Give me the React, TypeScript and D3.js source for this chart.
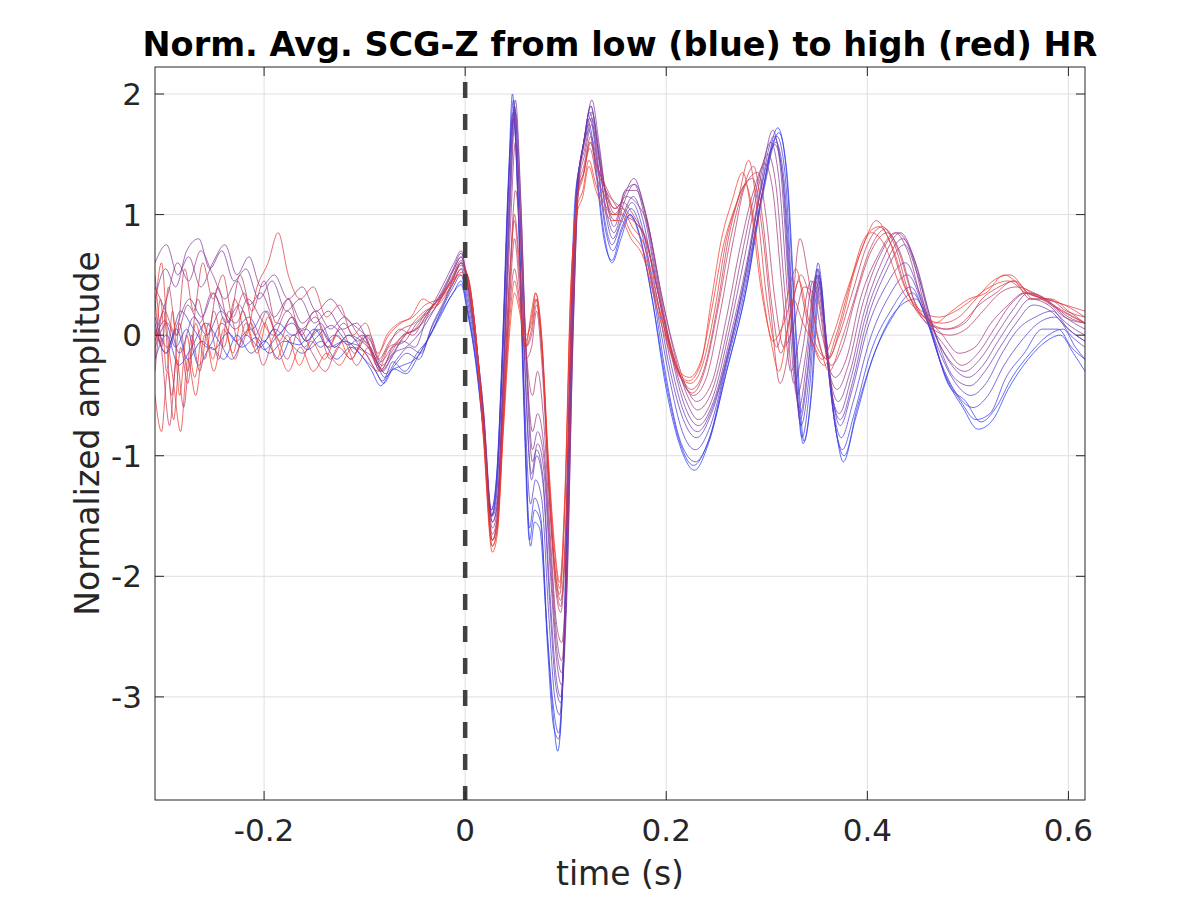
import * as d3 from 'd3';
import React from 'react';

type Pt = [number, number];

// averaged SCG-Z beats, ordered from lowest HR (blue) to highest HR (red)
const scgHr01: Pt[] = [
  [-0.3085, 0.1], [-0.298, -0.15], [-0.287, 0.05], [-0.276, -0.2], [-0.262, -0.05], [-0.25, -0.12], [-0.236, 0.02],
  [-0.222, -0.1], [-0.208, -0.02], [-0.195, -0.15], [-0.18, -0.05], [-0.165, -0.08], [-0.15, 0.05], [-0.136, -0.1],
  [-0.12, -0.05], [-0.105, -0.15], [-0.094, -0.28], [-0.084, -0.42], [-0.074, -0.3], [-0.062, -0.25], [-0.05, -0.2],
  [-0.038, -0.05], [-0.025, 0.15], [-0.012, 0.35], [-0.004, 0.42], [0.002, 0.2], [0.01, -0.2], [0.018, -0.8],
  [0.026, -1.5], [0.031, -1.25], [0.037, -0.2], [0.043, 1.2], [0.048, 1.95], [0.053, 1.1], [0.059, -0.7],
  [0.065, -1.75], [0.069, -1.55], [0.074, -1.6], [0.081, -2.4], [0.087, -3.1], [0.092, -3.45], [0.097, -2.9],
  [0.103, -0.6], [0.109, 1.1], [0.115, 1.45], [0.123, 1.75], [0.13, 1.4], [0.138, 0.85], [0.146, 0.6], [0.155, 0.8],
  [0.164, 1.0], [0.173, 0.85], [0.185, 0.35], [0.2, -0.45], [0.215, -0.95], [0.228, -1.12], [0.242, -0.9],
  [0.26, -0.3], [0.28, 0.4], [0.297, 1.25], [0.311, 1.72], [0.319, 1.4], [0.328, 0.1], [0.336, -0.9], [0.344, -0.5],
  [0.352, 0.5], [0.36, -0.2], [0.369, -0.8], [0.376, -1.05], [0.388, -0.7], [0.405, -0.2], [0.425, 0.15],
  [0.445, 0.35], [0.46, 0.1], [0.478, -0.35], [0.495, -0.6], [0.51, -0.78], [0.525, -0.7], [0.54, -0.45],
  [0.56, -0.2], [0.578, -0.05], [0.592, 0.0], [0.605, -0.15], [0.6165, -0.3],
];

const scgHr02: Pt[] = [
  [-0.3085, -0.05], [-0.299, 0.12], [-0.288, -0.1], [-0.277, 0.05], [-0.265, -0.25], [-0.253, -0.1], [-0.24, -0.2],
  [-0.227, 0.0], [-0.213, -0.15], [-0.199, -0.05], [-0.185, -0.2], [-0.171, 0.0], [-0.157, -0.12], [-0.143, -0.05],
  [-0.128, -0.2], [-0.114, -0.1], [-0.1, -0.2], [-0.089, -0.3], [-0.081, -0.4], [-0.071, -0.28], [-0.059, -0.32],
  [-0.047, -0.18], [-0.035, 0.0], [-0.023, 0.2], [-0.012, 0.35], [-0.004, 0.45], [0.002, 0.22], [0.01, -0.18],
  [0.018, -0.78], [0.026, -1.45], [0.031, -1.2], [0.037, -0.15], [0.043, 1.25], [0.047, 2.0], [0.052, 1.2],
  [0.058, -0.5], [0.064, -1.7], [0.069, -1.45], [0.075, -1.55], [0.082, -2.6], [0.088, -3.25], [0.093, -3.35],
  [0.098, -2.7], [0.104, -0.5], [0.11, 1.1], [0.116, 1.5], [0.123, 1.7], [0.13, 1.35], [0.138, 0.8], [0.146, 0.62],
  [0.155, 0.85], [0.164, 1.0], [0.174, 0.8], [0.186, 0.3], [0.2, -0.4], [0.214, -0.9], [0.227, -1.08],
  [0.242, -0.88], [0.26, -0.3], [0.279, 0.35], [0.297, 1.2], [0.312, 1.68], [0.32, 1.35], [0.329, 0.05],
  [0.337, -0.88], [0.345, -0.45], [0.353, 0.45], [0.361, -0.25], [0.37, -0.85], [0.377, -1.0], [0.39, -0.6],
  [0.407, -0.15], [0.428, 0.2], [0.448, 0.3], [0.463, 0.05], [0.48, -0.4], [0.498, -0.55], [0.513, -0.72],
  [0.528, -0.6], [0.544, -0.35], [0.562, -0.15], [0.58, 0.0], [0.595, 0.05], [0.607, -0.1], [0.6165, -0.2],
];

const scgHr03: Pt[] = [
  [-0.3085, -0.2], [-0.297, 0.0], [-0.285, -0.25], [-0.272, -0.1], [-0.258, 0.1], [-0.245, -0.05], [-0.232, -0.2],
  [-0.218, 0.0], [-0.204, -0.1], [-0.19, 0.05], [-0.176, -0.05], [-0.162, -0.15], [-0.148, -0.02], [-0.133, 0.08],
  [-0.118, -0.05], [-0.104, -0.1], [-0.092, -0.25], [-0.082, -0.38], [-0.072, -0.22], [-0.06, -0.3], [-0.048, -0.15],
  [-0.036, -0.02], [-0.024, 0.2], [-0.012, 0.4], [-0.004, 0.5], [0.002, 0.25], [0.01, -0.15], [0.018, -0.75],
  [0.026, -1.45], [0.031, -1.2], [0.037, -0.1], [0.043, 1.3], [0.048, 1.85], [0.053, 1.0], [0.059, -0.6],
  [0.064, -1.6], [0.069, -1.35], [0.075, -1.5], [0.082, -2.5], [0.088, -3.1], [0.093, -3.3], [0.098, -2.6],
  [0.104, -0.4], [0.11, 1.15], [0.116, 1.5], [0.124, 1.8], [0.131, 1.45], [0.139, 0.9], [0.147, 0.7], [0.156, 0.9],
  [0.165, 1.05], [0.174, 0.9], [0.187, 0.35], [0.2, -0.35], [0.215, -0.9], [0.229, -1.05], [0.243, -0.85],
  [0.26, -0.25], [0.28, 0.45], [0.296, 1.2], [0.31, 1.65], [0.318, 1.35], [0.327, 0.0], [0.335, -0.85],
  [0.343, -0.4], [0.351, 0.55], [0.359, -0.1], [0.368, -0.75], [0.375, -0.95], [0.387, -0.65], [0.403, -0.15],
  [0.423, 0.2], [0.443, 0.4], [0.458, 0.15], [0.476, -0.3], [0.493, -0.55], [0.508, -0.7], [0.522, -0.65],
  [0.538, -0.35], [0.556, -0.15], [0.574, 0.05], [0.59, 0.05], [0.603, -0.1], [0.6165, -0.2],
];

const scgHr04: Pt[] = [
  [-0.3085, 0.15], [-0.296, -0.1], [-0.283, 0.2], [-0.27, 0.05], [-0.256, -0.1], [-0.242, 0.1], [-0.228, -0.05],
  [-0.214, 0.05], [-0.2, -0.12], [-0.186, 0.0], [-0.172, 0.1], [-0.158, -0.05], [-0.144, 0.05], [-0.13, -0.1],
  [-0.116, 0.0], [-0.102, -0.12], [-0.09, -0.2], [-0.08, -0.35], [-0.07, -0.25], [-0.058, -0.15], [-0.046, -0.2],
  [-0.034, 0.05], [-0.022, 0.25], [-0.011, 0.45], [-0.004, 0.55], [0.002, 0.3], [0.01, -0.1], [0.018, -0.7],
  [0.026, -1.5], [0.031, -1.3], [0.037, -0.2], [0.043, 1.2], [0.048, 1.8], [0.053, 1.05], [0.059, -0.5],
  [0.065, -1.4], [0.07, -1.2], [0.076, -1.35], [0.083, -2.3], [0.089, -3.0], [0.094, -3.15], [0.099, -2.4],
  [0.105, -0.3], [0.111, 1.2], [0.117, 1.55], [0.124, 1.85], [0.131, 1.5], [0.139, 0.95], [0.146, 0.75],
  [0.156, 0.95], [0.166, 1.1], [0.176, 0.9], [0.189, 0.3], [0.203, -0.35], [0.216, -0.8], [0.229, -0.95],
  [0.244, -0.75], [0.262, -0.15], [0.28, 0.5], [0.295, 1.15], [0.309, 1.6], [0.317, 1.3], [0.326, 0.1],
  [0.334, -0.75], [0.342, -0.35], [0.351, 0.6], [0.359, 0.0], [0.367, -0.65], [0.374, -0.85], [0.386, -0.55],
  [0.402, -0.05], [0.42, 0.3], [0.44, 0.5], [0.455, 0.25], [0.472, -0.2], [0.49, -0.5], [0.505, -0.6],
  [0.52, -0.5], [0.536, -0.25], [0.553, -0.05], [0.57, 0.1], [0.587, 0.15], [0.602, 0.0], [0.6165, -0.1],
];

const scgHr05: Pt[] = [
  [-0.3085, -0.1], [-0.296, 0.1], [-0.284, -0.15], [-0.27, 0.15], [-0.257, 0.0], [-0.243, 0.2], [-0.229, 0.05],
  [-0.215, 0.15], [-0.2, -0.05], [-0.186, 0.1], [-0.172, 0.0], [-0.158, 0.05], [-0.144, -0.1], [-0.13, 0.0],
  [-0.116, -0.08], [-0.102, 0.0], [-0.09, -0.18], [-0.079, -0.32], [-0.068, -0.2], [-0.056, -0.1], [-0.044, -0.15],
  [-0.032, 0.1], [-0.02, 0.3], [-0.01, 0.5], [-0.004, 0.6], [0.002, 0.35], [0.01, -0.05], [0.018, -0.65],
  [0.026, -1.5], [0.031, -1.35], [0.037, -0.3], [0.044, 1.2], [0.049, 1.9], [0.054, 1.1], [0.06, -0.4],
  [0.066, -1.2], [0.071, -1.0], [0.077, -1.2], [0.084, -2.2], [0.09, -2.9], [0.095, -3.05], [0.1, -2.3],
  [0.106, -0.2], [0.112, 1.25], [0.118, 1.6], [0.125, 1.9], [0.132, 1.55], [0.14, 1.0], [0.147, 0.8],
  [0.157, 1.0], [0.167, 1.15], [0.177, 0.95], [0.19, 0.35], [0.204, -0.3], [0.217, -0.7], [0.23, -0.85],
  [0.245, -0.65], [0.263, -0.1], [0.28, 0.55], [0.294, 1.2], [0.308, 1.58], [0.316, 1.3], [0.325, 0.15],
  [0.333, -0.7], [0.341, -0.3], [0.35, 0.55], [0.358, 0.05], [0.366, -0.55], [0.373, -0.75], [0.385, -0.45],
  [0.4, 0.05], [0.418, 0.4], [0.438, 0.6], [0.452, 0.35], [0.47, -0.1], [0.488, -0.4], [0.503, -0.5],
  [0.518, -0.4], [0.534, -0.15], [0.55, 0.05], [0.567, 0.15], [0.584, 0.2], [0.6, 0.05], [0.6165, -0.05],
];

const scgHr06: Pt[] = [
  [-0.3085, 0.05], [-0.297, -0.15], [-0.286, 0.1], [-0.274, 0.3], [-0.262, 0.15], [-0.25, 0.35], [-0.238, 0.1],
  [-0.225, 0.25], [-0.212, 0.05], [-0.199, 0.2], [-0.186, 0.0], [-0.172, 0.15], [-0.158, -0.05], [-0.144, 0.1],
  [-0.13, -0.1], [-0.116, 0.0], [-0.103, -0.05], [-0.092, -0.15], [-0.082, -0.3], [-0.071, -0.15], [-0.059, -0.1],
  [-0.047, 0.0], [-0.035, 0.15], [-0.022, 0.35], [-0.011, 0.55], [-0.004, 0.65], [0.002, 0.4], [0.01, -0.05],
  [0.018, -0.65], [0.027, -1.55], [0.032, -1.4], [0.038, -0.35], [0.044, 1.1], [0.049, 1.9], [0.054, 1.15],
  [0.06, -0.35], [0.066, -1.15], [0.071, -0.95], [0.077, -1.15], [0.084, -2.1], [0.09, -2.8], [0.095, -3.0],
  [0.1, -2.25], [0.106, -0.15], [0.112, 1.25], [0.118, 1.6], [0.125, 1.9], [0.132, 1.55], [0.14, 1.05],
  [0.148, 0.85], [0.158, 1.1], [0.168, 1.25], [0.178, 1.0], [0.191, 0.4], [0.205, -0.25], [0.218, -0.65],
  [0.231, -0.8], [0.246, -0.6], [0.264, -0.05], [0.28, 0.55], [0.294, 1.2], [0.307, 1.65], [0.315, 1.35],
  [0.324, 0.2], [0.333, -0.65], [0.341, -0.25], [0.35, 0.5], [0.358, 0.05], [0.366, -0.55], [0.373, -0.7],
  [0.385, -0.4], [0.399, 0.1], [0.417, 0.5], [0.437, 0.75], [0.45, 0.5], [0.468, 0.0], [0.486, -0.35],
  [0.502, -0.42], [0.517, -0.3], [0.532, -0.1], [0.548, 0.1], [0.565, 0.25], [0.582, 0.2], [0.6, 0.05], [0.6165, -0.05],
];

const scgHr07: Pt[] = [
  [-0.3085, 0.3], [-0.298, 0.55], [-0.288, 0.4], [-0.277, 0.7], [-0.265, 0.8], [-0.254, 0.55], [-0.242, 0.7],
  [-0.23, 0.45], [-0.218, 0.55], [-0.205, 0.3], [-0.192, 0.45], [-0.178, 0.2], [-0.164, 0.3], [-0.15, 0.1],
  [-0.136, 0.2], [-0.122, 0.05], [-0.108, 0.1], [-0.095, -0.1], [-0.084, -0.3], [-0.074, -0.2], [-0.062, -0.05],
  [-0.05, -0.1], [-0.038, 0.15], [-0.024, 0.35], [-0.012, 0.55], [-0.004, 0.68], [0.002, 0.45], [0.01, 0.0],
  [0.018, -0.6], [0.027, -1.5], [0.032, -1.35], [0.038, -0.3], [0.045, 1.2], [0.05, 1.95], [0.055, 1.2],
  [0.061, -0.3], [0.067, -1.05], [0.072, -0.9], [0.078, -1.1], [0.085, -2.0], [0.091, -2.7], [0.096, -2.9],
  [0.101, -2.2], [0.107, -0.1], [0.113, 1.3], [0.119, 1.65], [0.126, 1.95], [0.133, 1.6], [0.141, 1.1],
  [0.148, 0.9], [0.158, 1.15], [0.168, 1.3], [0.178, 1.05], [0.192, 0.4], [0.206, -0.2], [0.219, -0.6],
  [0.232, -0.75], [0.247, -0.55], [0.264, 0.0], [0.28, 0.6], [0.293, 1.2], [0.306, 1.7], [0.314, 1.35],
  [0.323, 0.25], [0.332, -0.6], [0.34, -0.2], [0.349, 0.5], [0.357, 0.1], [0.365, -0.5], [0.372, -0.65],
  [0.384, -0.35], [0.398, 0.15], [0.416, 0.55], [0.435, 0.8], [0.448, 0.6], [0.466, 0.05], [0.484, -0.25],
  [0.5, -0.35], [0.515, -0.25], [0.53, -0.05], [0.546, 0.15], [0.562, 0.3], [0.58, 0.25], [0.598, 0.1], [0.6165, 0.0],
];

const scgHr08: Pt[] = [
  [-0.3085, 0.6], [-0.297, 0.75], [-0.286, 0.5], [-0.275, 0.65], [-0.263, 0.4], [-0.251, 0.6], [-0.239, 0.75],
  [-0.227, 0.5], [-0.215, 0.65], [-0.203, 0.4], [-0.19, 0.5], [-0.176, 0.3], [-0.162, 0.4], [-0.148, 0.2],
  [-0.134, 0.3], [-0.12, 0.15], [-0.106, 0.05], [-0.094, -0.05], [-0.083, -0.25], [-0.072, -0.15], [-0.06, 0.0],
  [-0.048, 0.05], [-0.036, 0.2], [-0.023, 0.4], [-0.011, 0.6], [-0.004, 0.7], [0.002, 0.45], [0.01, 0.0],
  [0.018, -0.6], [0.027, -1.55], [0.032, -1.4], [0.038, -0.35], [0.045, 1.1], [0.05, 1.85], [0.055, 1.15],
  [0.061, -0.2], [0.067, -0.95], [0.072, -0.8], [0.078, -1.0], [0.085, -1.9], [0.091, -2.6], [0.096, -2.8],
  [0.101, -2.1], [0.107, -0.1], [0.113, 1.3], [0.119, 1.6], [0.126, 1.85], [0.133, 1.55], [0.141, 1.1],
  [0.149, 0.95], [0.159, 1.2], [0.169, 1.25], [0.18, 1.0], [0.194, 0.35], [0.207, -0.2], [0.22, -0.55],
  [0.232, -0.7], [0.247, -0.5], [0.263, 0.05], [0.278, 0.65], [0.291, 1.2], [0.304, 1.6], [0.312, 1.3],
  [0.321, 0.3], [0.33, -0.5], [0.339, -0.15], [0.348, 0.45], [0.356, 0.15], [0.364, -0.4], [0.371, -0.55],
  [0.383, -0.3], [0.397, 0.2], [0.414, 0.6], [0.433, 0.85], [0.446, 0.65], [0.463, 0.1], [0.481, -0.2],
  [0.497, -0.3], [0.512, -0.2], [0.528, 0.0], [0.544, 0.2], [0.56, 0.35], [0.578, 0.3], [0.597, 0.15], [0.6165, 0.05],
];

const scgHr09: Pt[] = [
  [-0.3085, 0.0], [-0.297, 0.3], [-0.286, 0.6], [-0.275, 0.45], [-0.263, 0.7], [-0.251, 0.5], [-0.239, 0.3],
  [-0.227, 0.45], [-0.215, 0.25], [-0.203, 0.35], [-0.19, 0.15], [-0.176, 0.3], [-0.162, 0.1], [-0.148, 0.2],
  [-0.134, 0.05], [-0.12, 0.15], [-0.106, 0.0], [-0.094, -0.1], [-0.083, -0.28], [-0.072, -0.1], [-0.06, -0.05],
  [-0.048, 0.1], [-0.036, 0.2], [-0.023, 0.35], [-0.011, 0.55], [-0.004, 0.65], [0.002, 0.45], [0.01, 0.0],
  [0.018, -0.65], [0.027, -1.6], [0.032, -1.45], [0.038, -0.4], [0.045, 0.9], [0.05, 1.6], [0.055, 1.0],
  [0.061, -0.2], [0.067, -0.8], [0.072, -0.65], [0.078, -0.9], [0.085, -1.8], [0.091, -2.5], [0.096, -2.7],
  [0.101, -2.0], [0.107, 0.0], [0.113, 1.3], [0.119, 1.55], [0.126, 1.8], [0.133, 1.5], [0.141, 1.15],
  [0.15, 1.0], [0.16, 1.2], [0.17, 1.2], [0.181, 0.95], [0.195, 0.35], [0.208, -0.15], [0.221, -0.5],
  [0.231, -0.62], [0.246, -0.45], [0.262, 0.1], [0.276, 0.7], [0.289, 1.2], [0.301, 1.5], [0.309, 1.25],
  [0.318, 0.35], [0.327, -0.4], [0.336, -0.1], [0.346, 0.45], [0.354, 0.2], [0.362, -0.3], [0.37, -0.45],
  [0.381, -0.25], [0.395, 0.25], [0.412, 0.65], [0.43, 0.85], [0.443, 0.7], [0.46, 0.15], [0.478, -0.1],
  [0.494, -0.25], [0.51, -0.15], [0.526, 0.05], [0.542, 0.25], [0.558, 0.35], [0.576, 0.3], [0.596, 0.15], [0.6165, 0.1],
];

const scgHr10: Pt[] = [
  [-0.3085, 0.4], [-0.298, 0.2], [-0.287, 0.0], [-0.276, 0.25], [-0.264, 0.1], [-0.252, 0.35], [-0.24, 0.2],
  [-0.228, 0.1], [-0.216, 0.3], [-0.204, 0.15], [-0.191, 0.0], [-0.177, 0.2], [-0.163, 0.05], [-0.149, 0.15],
  [-0.135, -0.05], [-0.121, 0.1], [-0.107, -0.05], [-0.095, 0.0], [-0.084, -0.22], [-0.073, -0.1], [-0.061, 0.0],
  [-0.049, 0.05], [-0.037, 0.15], [-0.024, 0.3], [-0.012, 0.5], [-0.004, 0.62], [0.002, 0.45], [0.01, 0.0],
  [0.018, -0.7], [0.027, -1.65], [0.032, -1.5], [0.038, -0.5], [0.045, 0.6], [0.05, 1.2], [0.055, 0.8],
  [0.061, -0.15], [0.067, -0.5], [0.072, -0.3], [0.078, -0.7], [0.085, -1.7], [0.091, -2.4], [0.096, -2.55],
  [0.101, -1.9], [0.107, 0.1], [0.113, 1.25], [0.119, 1.5], [0.126, 1.75], [0.133, 1.45], [0.141, 1.15],
  [0.15, 1.05], [0.16, 1.15], [0.17, 1.1], [0.182, 0.9], [0.196, 0.3], [0.209, -0.15], [0.221, -0.45],
  [0.23, -0.55], [0.245, -0.4], [0.26, 0.15], [0.274, 0.75], [0.287, 1.2], [0.298, 1.42], [0.306, 1.2],
  [0.315, 0.4], [0.324, -0.3], [0.333, 0.0], [0.344, 0.45], [0.352, 0.25], [0.36, -0.2], [0.368, -0.35],
  [0.379, -0.2], [0.393, 0.3], [0.41, 0.65], [0.428, 0.85], [0.44, 0.7], [0.457, 0.2], [0.475, 0.0],
  [0.491, -0.15], [0.507, -0.1], [0.523, 0.1], [0.54, 0.25], [0.556, 0.35], [0.574, 0.3], [0.595, 0.2], [0.6165, 0.1],
];

const scgHr11: Pt[] = [
  [-0.3085, -0.3], [-0.3, 0.2], [-0.292, -0.5], [-0.284, 0.1], [-0.276, -0.3], [-0.266, 0.3], [-0.256, 0.0],
  [-0.246, 0.4], [-0.235, 0.1], [-0.224, 0.5], [-0.212, 0.2], [-0.2, 0.45], [-0.188, 0.1], [-0.176, 0.3],
  [-0.163, 0.0], [-0.15, 0.2], [-0.137, -0.1], [-0.124, 0.05], [-0.11, -0.15], [-0.097, 0.0], [-0.086, -0.2],
  [-0.075, -0.05], [-0.063, 0.05], [-0.05, 0.1], [-0.038, 0.2], [-0.025, 0.3], [-0.013, 0.45], [-0.004, 0.6],
  [0.002, 0.5], [0.01, 0.05], [0.018, -0.7], [0.027, -1.7], [0.032, -1.5], [0.038, -0.6], [0.045, 0.4],
  [0.049, 0.8], [0.054, 0.4], [0.06, -0.2], [0.066, -0.1], [0.071, 0.2], [0.076, -0.2], [0.084, -1.4],
  [0.09, -2.1], [0.095, -2.3], [0.1, -1.7], [0.106, 0.2], [0.112, 1.2], [0.118, 1.4], [0.125, 1.65],
  [0.132, 1.4], [0.14, 1.2], [0.149, 1.1], [0.158, 1.05], [0.168, 0.95], [0.18, 0.8], [0.193, 0.3],
  [0.206, -0.15], [0.217, -0.4], [0.227, -0.5], [0.24, -0.35], [0.254, 0.2], [0.267, 0.8], [0.279, 1.25],
  [0.291, 1.35], [0.299, 1.0], [0.308, 0.3], [0.317, -0.1], [0.327, 0.1], [0.337, 0.4], [0.346, 0.35],
  [0.355, 0.0], [0.364, -0.25], [0.375, -0.1], [0.388, 0.3], [0.404, 0.7], [0.42, 0.85], [0.432, 0.7],
  [0.448, 0.25], [0.465, 0.05], [0.482, 0.0], [0.498, 0.05], [0.515, 0.2], [0.532, 0.35], [0.548, 0.4],
  [0.566, 0.35], [0.585, 0.25], [0.6, 0.15], [0.6165, 0.1],
];

const scgHr12: Pt[] = [
  [-0.3085, 0.5], [-0.301, -0.2], [-0.294, -0.75], [-0.287, -0.2], [-0.28, -0.6], [-0.272, 0.0], [-0.264, -0.3],
  [-0.255, 0.1], [-0.245, -0.2], [-0.235, 0.2], [-0.224, -0.1], [-0.213, 0.1], [-0.201, -0.25], [-0.189, 0.0],
  [-0.177, -0.2], [-0.165, 0.05], [-0.152, -0.15], [-0.139, -0.3], [-0.126, -0.1], [-0.113, -0.2], [-0.1, 0.0],
  [-0.088, -0.25], [-0.077, -0.1], [-0.065, 0.05], [-0.052, 0.0], [-0.04, 0.15], [-0.027, 0.3], [-0.014, 0.45],
  [-0.004, 0.58], [0.002, 0.5], [0.01, 0.05], [0.018, -0.75], [0.027, -1.7], [0.032, -1.55], [0.038, -0.7],
  [0.045, 0.3], [0.049, 0.55], [0.054, 0.3], [0.06, -0.1], [0.066, 0.05], [0.071, 0.3], [0.076, -0.1],
  [0.084, -1.3], [0.09, -2.0], [0.095, -2.2], [0.1, -1.6], [0.106, 0.3], [0.112, 1.2], [0.118, 1.35],
  [0.124, 1.6], [0.131, 1.4], [0.139, 1.25], [0.148, 1.1], [0.157, 1.0], [0.167, 0.95], [0.179, 0.8],
  [0.192, 0.35], [0.204, -0.1], [0.215, -0.35], [0.225, -0.45], [0.237, -0.3], [0.25, 0.2], [0.263, 0.85],
  [0.275, 1.2], [0.286, 1.3], [0.295, 0.9], [0.304, 0.2], [0.313, -0.4], [0.322, -0.1], [0.333, 0.8],
  [0.341, 0.5], [0.35, 0.0], [0.36, -0.2], [0.372, 0.0], [0.385, 0.35], [0.4, 0.75], [0.415, 0.9],
  [0.427, 0.75], [0.443, 0.3], [0.46, 0.1], [0.477, 0.05], [0.494, 0.1], [0.511, 0.25], [0.528, 0.35],
  [0.545, 0.45], [0.562, 0.3], [0.58, 0.3], [0.598, 0.2], [0.6165, 0.15],
];

const scgHr13: Pt[] = [
  [-0.3085, 0.3], [-0.302, -0.1], [-0.295, 0.4], [-0.287, 0.0], [-0.279, 0.55], [-0.27, 0.2], [-0.261, 0.6],
  [-0.251, 0.3], [-0.241, 0.5], [-0.231, 0.15], [-0.22, 0.35], [-0.209, 0.0], [-0.197, 0.2], [-0.185, -0.05],
  [-0.173, 0.15], [-0.16, -0.1], [-0.147, 0.05], [-0.134, -0.2], [-0.121, -0.05], [-0.108, -0.25], [-0.096, -0.1],
  [-0.085, -0.3], [-0.074, -0.15], [-0.062, 0.0], [-0.05, 0.05], [-0.038, 0.2], [-0.026, 0.3], [-0.014, 0.45],
  [-0.004, 0.6], [0.002, 0.5], [0.01, 0.05], [0.018, -0.75], [0.027, -1.7], [0.032, -1.55], [0.038, -0.55],
  [0.045, 0.6], [0.049, 0.95], [0.054, 0.5], [0.06, -0.1], [0.066, 0.0], [0.071, 0.25], [0.077, -0.2],
  [0.084, -1.35], [0.09, -2.05], [0.095, -2.25], [0.1, -1.6], [0.106, 0.25], [0.112, 1.15], [0.118, 1.35],
  [0.125, 1.6], [0.132, 1.35], [0.14, 1.2], [0.148, 1.05], [0.157, 1.1], [0.167, 1.0], [0.179, 0.8],
  [0.192, 0.35], [0.205, -0.1], [0.216, -0.38], [0.226, -0.48], [0.238, -0.3], [0.251, 0.2], [0.264, 0.8],
  [0.276, 1.2], [0.287, 1.4], [0.296, 0.95], [0.305, 0.25], [0.314, -0.15], [0.324, 0.2], [0.334, 0.5],
  [0.343, 0.3], [0.352, -0.05], [0.362, -0.3], [0.374, -0.05], [0.387, 0.3], [0.402, 0.7], [0.418, 0.88],
  [0.43, 0.72], [0.446, 0.3], [0.463, 0.1], [0.48, 0.05], [0.497, 0.1], [0.514, 0.3], [0.531, 0.4],
  [0.547, 0.45], [0.565, 0.3], [0.583, 0.3], [0.6, 0.2], [0.6165, 0.1],
];

const scgHr14: Pt[] = [
  [-0.3085, -0.5], [-0.302, -0.8], [-0.296, -0.3], [-0.29, -0.7], [-0.283, -0.1], [-0.276, -0.4], [-0.268, 0.1],
  [-0.259, -0.2], [-0.25, 0.2], [-0.24, -0.1], [-0.229, 0.3], [-0.218, 0.0], [-0.207, 0.4], [-0.196, 0.6],
  [-0.186, 0.85], [-0.176, 0.5], [-0.164, 0.3], [-0.151, 0.4], [-0.138, 0.15], [-0.125, 0.25], [-0.112, 0.0],
  [-0.099, 0.1], [-0.087, -0.15], [-0.076, 0.0], [-0.064, 0.1], [-0.052, 0.15], [-0.04, 0.25], [-0.027, 0.3],
  [-0.014, 0.4], [-0.004, 0.55], [0.002, 0.5], [0.01, 0.05], [0.018, -0.8], [0.027, -1.75], [0.032, -1.6],
  [0.038, -0.7], [0.045, 0.5], [0.049, 1.0], [0.054, 0.6], [0.06, 0.0], [0.066, 0.1], [0.07, 0.35],
  [0.076, 0.0], [0.083, -1.2], [0.089, -1.9], [0.094, -2.15], [0.099, -1.5], [0.105, 0.3], [0.111, 1.1],
  [0.117, 1.3], [0.124, 1.55], [0.131, 1.3], [0.139, 1.15], [0.147, 1.0], [0.156, 1.05], [0.166, 0.9],
  [0.178, 0.75], [0.191, 0.3], [0.203, -0.1], [0.214, -0.35], [0.224, -0.4], [0.236, -0.25], [0.248, 0.2],
  [0.26, 0.8], [0.272, 1.15], [0.282, 1.45], [0.291, 1.0], [0.3, 0.3], [0.31, -0.1], [0.32, 0.3],
  [0.329, 0.55], [0.338, 0.2], [0.347, -0.1], [0.357, -0.25], [0.369, 0.0], [0.382, 0.4], [0.397, 0.8],
  [0.412, 0.9], [0.424, 0.75], [0.44, 0.35], [0.457, 0.15], [0.474, 0.1], [0.491, 0.15], [0.508, 0.3],
  [0.525, 0.45], [0.542, 0.5], [0.56, 0.35], [0.578, 0.3], [0.597, 0.25], [0.6165, 0.2],
];

const scgHr15: Pt[] = [
  [-0.3085, 0.2], [-0.302, 0.6], [-0.296, 0.0], [-0.29, -0.4], [-0.283, -0.8], [-0.276, -0.2], [-0.268, -0.5],
  [-0.259, 0.0], [-0.25, -0.3], [-0.24, 0.05], [-0.229, -0.2], [-0.218, 0.1], [-0.207, -0.15], [-0.196, 0.15],
  [-0.186, -0.1], [-0.176, -0.3], [-0.164, -0.1], [-0.151, -0.3], [-0.138, -0.15], [-0.125, -0.25], [-0.112, -0.1],
  [-0.099, -0.15], [-0.087, -0.3], [-0.076, -0.1], [-0.064, -0.05], [-0.052, 0.1], [-0.04, 0.2], [-0.027, 0.25],
  [-0.014, 0.4], [-0.004, 0.52], [0.002, 0.5], [0.01, 0.05], [0.018, -0.8], [0.027, -1.75], [0.032, -1.6],
  [0.038, -0.75], [0.045, 0.2], [0.049, 0.45], [0.054, 0.25], [0.06, -0.05], [0.066, 0.15], [0.07, 0.3],
  [0.076, -0.05], [0.083, -1.1], [0.089, -1.8], [0.094, -2.1], [0.099, -1.4], [0.105, 0.35], [0.111, 1.05],
  [0.117, 1.2], [0.123, 1.45], [0.13, 1.25], [0.138, 1.1], [0.146, 1.0], [0.155, 1.0], [0.165, 0.85],
  [0.177, 0.7], [0.19, 0.3], [0.202, -0.05], [0.213, -0.3], [0.223, -0.35], [0.235, -0.2], [0.246, 0.25],
  [0.257, 0.75], [0.268, 1.05], [0.279, 1.25], [0.288, 0.9], [0.297, 0.3], [0.306, -0.05], [0.317, 0.1],
  [0.326, 0.3], [0.336, 0.1], [0.345, -0.05], [0.355, -0.2], [0.366, 0.0], [0.379, 0.35], [0.394, 0.7],
  [0.409, 0.95], [0.421, 0.8], [0.437, 0.4], [0.454, 0.2], [0.471, 0.15], [0.488, 0.2], [0.505, 0.3],
  [0.522, 0.4], [0.54, 0.45], [0.558, 0.35], [0.577, 0.3], [0.596, 0.25], [0.6165, 0.15],
];

const scgHr16: Pt[] = [
  [-0.3085, -0.2], [-0.303, 0.3], [-0.297, -0.3], [-0.291, 0.2], [-0.284, -0.5], [-0.277, 0.0], [-0.269, -0.35],
  [-0.26, 0.1], [-0.251, -0.2], [-0.241, 0.15], [-0.231, -0.15], [-0.221, 0.2], [-0.21, -0.1], [-0.199, 0.1],
  [-0.188, -0.2], [-0.177, 0.0], [-0.165, -0.25], [-0.153, -0.05], [-0.14, -0.2], [-0.127, 0.0], [-0.114, -0.2],
  [-0.101, -0.05], [-0.089, -0.2], [-0.078, 0.0], [-0.066, 0.1], [-0.054, 0.15], [-0.042, 0.3], [-0.03, 0.25],
  [-0.017, 0.4], [-0.006, 0.5], [0.002, 0.45], [0.01, 0.0], [0.018, -0.85], [0.027, -1.8], [0.032, -1.65],
  [0.038, -0.8], [0.045, 0.1], [0.049, 0.35], [0.054, 0.2], [0.06, -0.1], [0.066, 0.2], [0.07, 0.35],
  [0.076, 0.0], [0.083, -1.05], [0.089, -1.75], [0.094, -2.05], [0.099, -1.35], [0.105, 0.4], [0.111, 1.0],
  [0.117, 1.15], [0.123, 1.4], [0.13, 1.2], [0.138, 1.05], [0.146, 0.95], [0.155, 0.95], [0.165, 0.8],
  [0.177, 0.65], [0.19, 0.25], [0.202, -0.1], [0.212, -0.3], [0.222, -0.38], [0.234, -0.25], [0.245, 0.3],
  [0.255, 0.8], [0.265, 1.1], [0.276, 1.35], [0.285, 1.0], [0.294, 0.4], [0.303, 0.0], [0.312, -0.3],
  [0.322, 0.1], [0.332, 0.45], [0.341, 0.15], [0.35, -0.1], [0.361, -0.2], [0.374, 0.1], [0.388, 0.55],
  [0.404, 0.85], [0.417, 0.75], [0.433, 0.4], [0.45, 0.2], [0.467, 0.1], [0.484, 0.2], [0.501, 0.3],
  [0.518, 0.35], [0.536, 0.5], [0.554, 0.4], [0.573, 0.3], [0.593, 0.2], [0.6165, 0.1],
];

const traces = [
  scgHr01, scgHr02, scgHr03, scgHr04, scgHr05, scgHr06, scgHr07, scgHr08,
  scgHr09, scgHr10, scgHr11, scgHr12, scgHr13, scgHr14, scgHr15, scgHr16,
];

const xTicks = [-0.2, 0, 0.2, 0.4, 0.6];
const yTicks = [-3, -2, -1, 0, 1, 2];
const xDomain: [number, number] = [-0.3085, 0.6165];
const yDomain: [number, number] = [-3.855, 2.224];

const W = 1200;
const H = 900;
const margin = { left: 155, right: 115, top: 67, bottom: 100 };
const ink = '#262626';
const font = '"DejaVu Sans", sans-serif';

export default function App() {
  const x = d3.scaleLinear().domain(xDomain).range([margin.left, W - margin.right]);
  const y = d3.scaleLinear().domain(yDomain).range([H - margin.bottom, margin.top]);
  const [x0, x1] = x.range();
  const [y0, y1] = y.range();

  const line = d3
    .line<Pt>()
    .x((d) => x(d[0]))
    .y((d) => y(d[1]))
    .curve(d3.curveMonotoneX);

  // low HR -> blue, high HR -> red
  const colour = d3.interpolateRgb('rgb(35,55,245)', 'rgb(245,55,35)');
  const tickLen = 9;

  return (
    <svg width={W} height={H} style={{ position: 'absolute', left: 0, top: 0, background: '#fff' }} fontFamily={font}>
      <rect x={0} y={0} width={W} height={H} fill="#fff" />
      {/* grid */}
      <g stroke="#dfdfdf" strokeWidth={1}>
        {xTicks.map((t) => (
          <line key={'gx' + t} x1={x(t)} x2={x(t)} y1={y1} y2={y0} />
        ))}
        {yTicks.map((t) => (
          <line key={'gy' + t} x1={x0} x2={x1} y1={y(t)} y2={y(t)} />
        ))}
      </g>

      <defs>
        <clipPath id="plot-clip">
          <rect x={x0} y={y1} width={x1 - x0} height={y0 - y1} />
        </clipPath>
      </defs>

      <g clipPath="url(#plot-clip)" fill="none" strokeWidth={1} strokeOpacity={0.72}>
        {traces.map((tr, i) => (
          <path key={i} d={line(tr) ?? ''} stroke={colour(i / (traces.length - 1))} />
        ))}
      </g>

      {/* onset marker */}
      <line
        x1={x(0)}
        x2={x(0)}
        y1={y1}
        y2={y0}
        stroke="#404040"
        strokeWidth={4.5}
        strokeDasharray="16,16"
        strokeDashoffset={-15}
      />

      {/* axes box and ticks */}
      <g stroke={ink} strokeWidth={1} fill="none">
        <rect x={x0} y={y1} width={x1 - x0} height={y0 - y1} />
        {xTicks.map((t) => (
          <g key={'tx' + t}>
            <line x1={x(t)} x2={x(t)} y1={y0} y2={y0 - tickLen} />
            <line x1={x(t)} x2={x(t)} y1={y1} y2={y1 + tickLen} />
          </g>
        ))}
        {yTicks.map((t) => (
          <g key={'ty' + t}>
            <line x1={x0} x2={x0 + tickLen} y1={y(t)} y2={y(t)} />
            <line x1={x1} x2={x1 - tickLen} y1={y(t)} y2={y(t)} />
          </g>
        ))}
      </g>

      <g fill={ink} fontSize={31}>
        {xTicks.map((t) => (
          <text key={'lx' + t} x={x(t)} y={y0 + 41} textAnchor="middle">
            {String(t)}
          </text>
        ))}
        {yTicks.map((t) => (
          <text key={'ly' + t} x={x0 - 13} y={y(t) + 11} textAnchor="end">
            {String(t)}
          </text>
        ))}
      </g>

      <text x={(x0 + x1) / 2} y={885} textAnchor="middle" fontSize={33} fill={ink}>
        time (s)
      </text>
      <text
        transform={`translate(99,${(y0 + y1) / 2}) rotate(-90)`}
        textAnchor="middle"
        fontSize={33}
        fill={ink}
      >
        Normalized amplitude
      </text>
      <text x={(x0 + x1) / 2} y={56} textAnchor="middle" fontSize={33.5} fontWeight="bold" fill="#000">
        Norm. Avg. SCG-Z from low (blue) to high (red) HR
      </text>
    </svg>
  );
}
